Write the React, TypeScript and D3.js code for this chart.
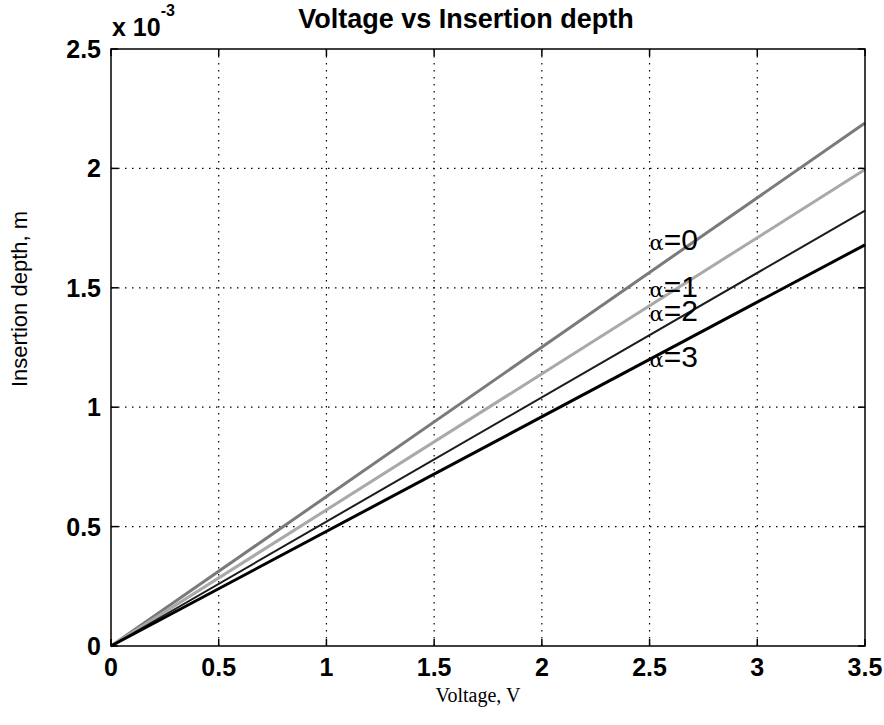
import React, { useEffect, useRef } from 'react';
import * as d3 from 'd3';

// Insertion depth (x 10^-3 m) vs voltage, straight lines from origin
const voltage = [0, 3.5];
const depthA0 = [0, 2.19];
const depthA1 = [0, 1.995];
const depthA2 = [0, 1.823];
const depthA3 = [0, 1.68];

const seriesNames = ['0', '1', '2', '3'];
const seriesColors = ['#7a7a7a', '#a9a9a9', '#1c1c1c', '#000000'];
const seriesWidths = [3, 3, 2, 3];

// where the α labels sit (voltage, depth)
const labelX = [2.5, 2.5, 2.5, 2.5];
const labelY = [1.66, 1.46, 1.36, 1.17];

const xTicks = [0, 0.5, 1, 1.5, 2, 2.5, 3, 3.5];
const yTicks = [0, 0.5, 1, 1.5, 2, 2.5];

const App = () => {
  const svgRef = useRef<SVGSVGElement>(null);

  useEffect(() => {
    const svg = d3.select(svgRef.current);
    svg.selectAll('*').remove();

    const left = 111, right = 865, top = 49, bottom = 646;
    const x = d3.scaleLinear().domain([0, 3.5]).range([left, right]);
    const y = d3.scaleLinear().domain([0, 2.5]).range([bottom, top]);
    const tickFont = 'Liberation Sans, Arial, sans-serif';

    svg.append('rect').attr('width', 884).attr('height', 725).attr('fill', '#fff');

    // dotted grid
    const grid = svg.append('g').attr('stroke', '#000').attr('stroke-width', 1.2)
      .attr('stroke-dasharray', '1.5,5.5');
    xTicks.slice(1, -1).forEach(t => {
      grid.append('line').attr('x1', x(t)).attr('x2', x(t)).attr('y1', top).attr('y2', bottom);
    });
    yTicks.slice(1, -1).forEach(t => {
      grid.append('line').attr('x1', left).attr('x2', right).attr('y1', y(t)).attr('y2', y(t));
    });

    // lines
    const data = [depthA0, depthA1, depthA2, depthA3];
    const line = d3.line<number>()
      .x((_, i) => x(voltage[i]))
      .y(d => y(d));
    data.forEach((s, k) => {
      svg.append('path')
        .datum(s)
        .attr('fill', 'none')
        .attr('stroke', seriesColors[k])
        .attr('stroke-width', seriesWidths[k])
        .attr('d', line);
    });

    // box + ticks on all sides
    svg.append('rect')
      .attr('x', left).attr('y', top)
      .attr('width', right - left).attr('height', bottom - top)
      .attr('fill', 'none').attr('stroke', '#000').attr('stroke-width', 1.5);

    const ticks = svg.append('g').attr('stroke', '#000').attr('stroke-width', 1.5);
    xTicks.forEach(t => {
      ticks.append('line').attr('x1', x(t)).attr('x2', x(t)).attr('y1', bottom).attr('y2', bottom - 7);
      ticks.append('line').attr('x1', x(t)).attr('x2', x(t)).attr('y1', top).attr('y2', top + 7);
    });
    yTicks.forEach(t => {
      ticks.append('line').attr('x1', left).attr('x2', left + 7).attr('y1', y(t)).attr('y2', y(t));
      ticks.append('line').attr('x1', right).attr('x2', right - 7).attr('y1', y(t)).attr('y2', y(t));
    });

    // tick labels
    svg.append('g').selectAll('text')
      .data(xTicks)
      .enter().append('text')
      .attr('x', d => x(d))
      .attr('y', bottom + 30)
      .attr('text-anchor', 'middle')
      .style('font-family', tickFont)
      .style('font-size', '25px')
      .style('font-weight', 'bold')
      .text(d => d3.format('')(d));

    svg.append('g').selectAll('text')
      .data(yTicks)
      .enter().append('text')
      .attr('x', left - 10)
      .attr('y', d => y(d) + 9)
      .attr('text-anchor', 'end')
      .style('font-family', tickFont)
      .style('font-size', '25px')
      .style('font-weight', 'bold')
      .text(d => d3.format('')(d));

    // exponent
    const ex = svg.append('text')
      .attr('x', left + 1)
      .attr('y', 36)
      .style('font-family', tickFont)
      .style('font-size', '25px')
      .style('font-weight', 'bold');
    ex.append('tspan').text('x 10');
    ex.append('tspan').attr('dy', -20).style('font-size', '16px').text('-3');

    // title
    svg.append('text')
      .attr('x', 466)
      .attr('y', 28)
      .attr('text-anchor', 'middle')
      .style('font-family', tickFont)
      .style('font-size', '27px')
      .style('font-weight', 'bold')
      .text('Voltage vs Insertion depth');

    // axis labels
    svg.append('text')
      .attr('transform', 'translate(27, 299) rotate(-90)')
      .attr('text-anchor', 'middle')
      .style('font-family', tickFont)
      .style('font-size', '22px')
      .text('Insertion depth, m');

    svg.append('text')
      .attr('x', 478)
      .attr('y', 702)
      .attr('text-anchor', 'middle')
      .style('font-family', 'Liberation Serif, Times New Roman, serif')
      .style('font-size', '20px')
      .text('Voltage, V');

    // alpha labels
    seriesNames.forEach((n, k) => {
      const t = svg.append('text')
        .attr('x', x(labelX[k]))
        .attr('y', y(labelY[k]))
        .style('font-size', '30px');
      t.append('tspan')
        .style('font-family', 'DejaVu Serif, Liberation Serif, serif')
        .style('font-size', '21px')
        .text('α');
      t.append('tspan')
        .style('font-family', tickFont)
        .text('=' + n);
    });
  }, []);

  return (
    <svg
      ref={svgRef}
      width={884}
      height={725}
      style={{ position: 'absolute', left: 0, top: 0 }}
    />
  );
};

export default App;
